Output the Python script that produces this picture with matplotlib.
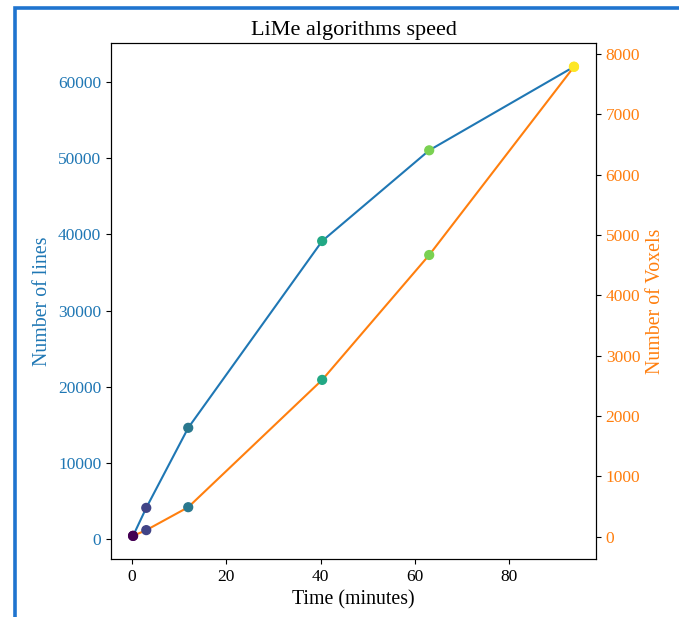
import matplotlib
matplotlib.use("Agg")
import matplotlib.pyplot as plt
from matplotlib.patches import Rectangle

plt.rcParams['font.family'] = ['Liberation Serif', 'DejaVu Serif']

time_minutes = [0.2, 3.0, 11.9, 40.3, 63.0, 93.7]
n_lines = [470, 4140, 14630, 39110, 51000, 61950]
n_voxels = [15, 110, 490, 2600, 4670, 7790]

fig = plt.figure(figsize=(6.79, 6.17), dpi=100)
ax1 = fig.add_axes([0.1635, 0.0935, 0.7143, 0.8363])

c1 = 'tab:blue'
c2 = 'tab:orange'
run_index = list(range(len(time_minutes)))

ax1.plot(time_minutes, n_lines, color=c1, zorder=1)
ax1.scatter(time_minutes, n_lines, c=run_index, cmap='viridis', s=40, zorder=2)
ax1.set_xlabel('Time (minutes)', fontsize=14.3)
ax1.set_ylabel('Number of lines', color=c1, fontsize=14.3)
ax1.tick_params(axis='y', labelcolor=c1, labelsize=12.5)
ax1.tick_params(axis='x', labelsize=12.5)
ax1.set_title('LiMe algorithms speed', fontsize=16)

ax2 = ax1.twinx()
ax2.plot(time_minutes, n_voxels, color=c2, zorder=1)
ax2.scatter(time_minutes, n_voxels, c=run_index, cmap='viridis', s=40, zorder=2)
ax2.set_ylabel('Number of Voxels', color=c2, fontsize=14.3)
ax2.tick_params(axis='y', labelcolor=c2, labelsize=12.5)

# window frame around the figure
frame = Rectangle((14.5 / 679, -0.1), 1.2, (1 - 7.5 / 617) + 0.1,
                  transform=fig.transFigure, fill=False,
                  edgecolor='#1f74cf', linewidth=2.6, clip_on=False)
fig.add_artist(frame)

fig.savefig('out.png', dpi=100)
